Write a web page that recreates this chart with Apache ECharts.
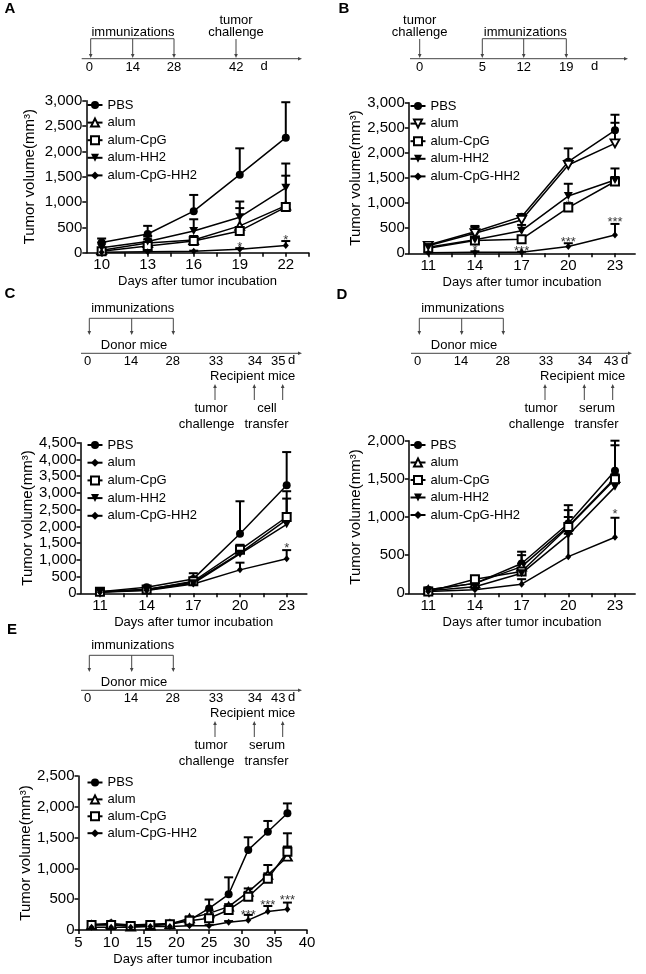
<!DOCTYPE html>
<html><head><meta charset="utf-8">
<script src="https://cdn.jsdelivr.net/npm/echarts@6/dist/echarts.min.js"></script>
<style>
html,body{margin:0;padding:0;background:#fff;width:646px;height:974px;overflow:hidden;}
.panel{position:absolute;left:0;top:0;width:646px;height:974px;}
</style></head><body>
<div id="pA" class="panel"></div>
<div id="pB" class="panel"></div>
<div id="pC" class="panel"></div>
<div id="pD" class="panel"></div>
<div id="pE" class="panel"></div>
<script>
const FONT = "'Liberation Sans', Arial, Helvetica, sans-serif";

// ---------- Panel A ----------
const daysA = [10, 13, 16, 19, 22];
const pbsA = [200, 370, 820, 1540, 2270];
const pbsTopA = [280, 530, 1140, 2060, 2970];
const alumA = [50, 190, 250, 530, 930];
const alumTopA = [80, 260, 330, 880, 1520];
const cpgA = [30, 130, 230, 430, 900];
const cpgTopA = [60, 180, 280, 480, 960];
const hh2A = [100, 220, 430, 700, 1280];
const hh2TopA = [200, 330, 660, 1010, 1760];
const cpghh2A = [10, 20, 30, 70, 140];
const cpghh2TopA = [20, 30, 40, 90, 230];
const starDaysA = [19, 22];
const starValA = [185, 330];
const starTextA = ['*', '*'];
const xLabelsA = [10, 13, 16, 19, 22];
const xTicksA = [10, 11.5, 13, 14.5, 16, 17.5, 19, 20.5, 22, 23.5];
const timelineA = ['0', '14', '28', '42'];

// ---------- Panel B ----------
const daysB = [11, 14, 17, 20, 23];
const pbsB = [165, 430, 730, 1825, 2450];
const pbsTopB = [200, 545, 780, 2090, 2760];
const alumB = [150, 400, 665, 1760, 2190];
const alumTopB = [180, 520, 740, 1850, 2600];
const cpgB = [100, 255, 280, 910, 1430];
const cpgTopB = [130, 300, 330, 1000, 1500];
const hh2B = [120, 270, 450, 1140, 1460];
const hh2TopB = [170, 460, 565, 1385, 1690];
const cpghh2B = [10, 20, 20, 135, 365];
const cpghh2TopB = [20, 40, 30, 200, 585];
const starDaysB = [14, 17, 17, 20, 20, 23];
const starValB = [130, 465, 120, 1030, 300, 685];
const starTextB = ['*', '*', '***', '*', '***', '***'];
const xLabelsB = [11, 14, 17, 20, 23];
const xTicksB = [11, 12.5, 14, 15.5, 17, 18.5, 20, 21.5, 23];
const timelineB = ['0', '5', '12', '19'];

// ---------- Panel C ----------
const daysC = [11, 14, 17, 20, 23];
const pbsC = [50, 180, 430, 1780, 3230];
const pbsTopC = [70, 210, 600, 2750, 4220];
const alumC = [40, 120, 330, 1200, 2200];
const alumTopC = [50, 150, 400, 1400, 2400];
const cpgC = [50, 110, 360, 1300, 2280];
const cpgTopC = [60, 140, 450, 1450, 3050];
const hh2C = [40, 100, 300, 1180, 2060];
const hh2TopC = [50, 130, 380, 1350, 2830];
const cpghh2C = [30, 80, 280, 700, 1030];
const cpghh2TopC = [40, 100, 330, 915, 1290];
const starDaysC = [23];
const starValC = [1475];
const starTextC = ['*'];
const xLabelsC = [11, 14, 17, 20, 23];
const xTicksC = [11, 12.5, 14, 15.5, 17, 18.5, 20, 21.5, 23];
const timelineC = ['0', '14', '28', '33', '34', '35'];

// ---------- Panel D ----------
const daysD = [11, 14, 17, 20, 23];
const pbsD = [45, 130, 390, 915, 1605];
const pbsTopD = [60, 200, 545, 1155, 2000];
const alumD = [45, 130, 350, 880, 1510];
const alumTopD = [60, 180, 500, 1090, 1940];
const cpgD = [22, 185, 285, 870, 1495];
const cpgTopD = [35, 215, 390, 1000, 1560];
const hh2D = [35, 85, 262, 765, 1395];
const hh2TopD = [50, 120, 330, 900, 1450];
const cpghh2D = [22, 45, 120, 480, 735];
const cpghh2TopD = [30, 60, 185, 780, 990];
const starDaysD = [23];
const starValD = [1085];
const starTextD = ['*'];
const xLabelsD = [11, 14, 17, 20, 23];
const xTicksD = [11, 12.5, 14, 15.5, 17, 18.5, 20, 21.5, 23];
const timelineD = ['0', '14', '28', '33', '34', '43'];

// ---------- Panel E ----------
const daysE = [7, 10, 13, 16, 19, 22, 25, 28, 31, 34, 37];
const pbsE = [90, 105, 80, 95, 105, 160, 350, 580, 1300, 1595, 1895];
const pbsTopE = [110, 125, 100, 115, 130, 200, 495, 855, 1505, 1770, 2055];
const alumE = [80, 95, 55, 70, 95, 190, 270, 380, 620, 895, 1190];
const alumTopE = [100, 115, 75, 90, 115, 220, 320, 420, 675, 1055, 1570];
const cpgE = [80, 80, 65, 80, 95, 150, 190, 325, 540, 830, 1270];
const cpgTopE = [100, 100, 85, 100, 115, 175, 230, 360, 620, 920, 1355];
const cpghh2E = [45, 45, 45, 55, 55, 70, 70, 125, 160, 300, 335];
const cpghh2TopE = [55, 55, 55, 65, 65, 80, 80, 145, 245, 390, 445];
const starDaysE = [31, 34, 37];
const starValE = [300, 460, 540];
const starTextE = ['***', '***', '***'];
const timelineE = ['0', '14', '28', '33', '34', '43'];

// ---------- styles ----------
const DOWN_TRI = 'path://M0,0L10,0L5,9Z';
const SYM = {
  circle: {symbol: 'circle', size: 8, fill: '#000', bw: 0},
  triUpOpen: {symbol: 'triangle', size: [9, 8], fill: '#fff', bw: 1.8},
  triDownOpen: {symbol: DOWN_TRI, size: [9, 8], fill: '#fff', bw: 1.8},
  squareOpen: {symbol: 'rect', size: 8, fill: '#fff', bw: 2},
  triDown: {symbol: DOWN_TRI, size: [9, 8], fill: '#000', bw: 0},
  diamond: {symbol: 'diamond', size: [6, 7], fill: '#000', bw: 0}
};

function lineSeries(name, days, mean, sym) {
  const s = SYM[sym];
  return {
    type: 'line', name: name,
    data: days.map((d, i) => [d, mean[i]]),
    symbol: s.symbol, symbolSize: s.size, showSymbol: true,
    itemStyle: {color: s.fill, borderColor: '#000', borderWidth: s.bw},
    lineStyle: {color: '#000', width: 1.5},
    z: 3, silent: true, emphasis: {disabled: true}
  };
}
function errSeries(days, mean, top) {
  return {
    type: 'custom', silent: true, z: 2,
    data: days.map((d, i) => [d, mean[i], top[i]]),
    encode: {x: 0, y: [1, 2]},
    renderItem: function (params, api) {
      const x = api.value(0), y = api.value(1), t = api.value(2);
      if (!(t > y)) return null;
      const a = api.coord([x, y]), b = api.coord([x, t]);
      return {type: 'group', children: [
        {type: 'line', shape: {x1: a[0], y1: a[1], x2: b[0], y2: b[1]}, style: {stroke: '#000', lineWidth: 2}},
        {type: 'line', shape: {x1: b[0] - 4.5, y1: b[1], x2: b[0] + 4.5, y2: b[1]}, style: {stroke: '#000', lineWidth: 2}}
      ]};
    }
  };
}
function starSeries(days, vals, texts) {
  return {
    type: 'scatter', silent: true, z: 4, symbolSize: 1,
    itemStyle: {color: 'rgba(0,0,0,0)'},
    label: {show: true, position: 'inside', fontSize: 13, color: '#000', fontFamily: FONT, offset: [0, 4]},
    data: days.map((d, i) => ({value: [d, vals[i]], label: {formatter: texts[i]}}))
  };
}

// ---------- graphic helpers ----------
function gText(x, y, s, st) {
  return {type: 'text', x: x, y: y, silent: true,
    style: Object.assign({text: s, fontSize: 13, fontFamily: FONT, fill: '#000', align: 'center', verticalAlign: 'middle'}, st || {})};
}
function gLine(x1, y1, x2, y2) {
  return {type: 'line', silent: true, shape: {x1: x1, y1: y1, x2: x2, y2: y2}, style: {stroke: '#444', lineWidth: 1}};
}
function gArrowDown(x, y) {
  return {type: 'polygon', silent: true, shape: {points: [[x, y], [x - 1.8, y - 4], [x + 1.8, y - 4]]}, style: {fill: '#444'}};
}
function gArrowUp(x, y) {
  return {type: 'polygon', silent: true, shape: {points: [[x, y], [x - 1.8, y + 4], [x + 1.8, y + 4]]}, style: {fill: '#444'}};
}
function gArrowRight(x, y) {
  return {type: 'polygon', silent: true, shape: {points: [[x, y], [x - 4, y - 1.8], [x - 4, y + 1.8]]}, style: {fill: '#444'}};
}
function gLetter(x, y, s) {
  return gText(x, y, s, {fontSize: 15, fontWeight: 'bold'});
}
function downArrow(x, y1, y2) {
  return [gLine(x, y1, x, y2 - 3), gArrowDown(x, y2)];
}

function timelineAGraphics() {
  const g = [gLetter(10, 9, 'A')];
  g.push(gLine(81.7, 58.7, 299, 58.7), gArrowRight(302, 58.7));
  const xs = [89.3, 132.7, 174, 236.3];
  timelineA.forEach((t, i) => g.push(gText(xs[i], 67, t)));
  g.push(gText(264, 66, 'd'));
  g.push(gLine(90.7, 38.7, 174, 38.7));
  [90.7, 132.7, 174].forEach(x => g.push(...downArrow(x, 38.7, 58)));
  g.push(gText(133, 32, 'immunizations'));
  g.push(gText(236, 20.5, 'tumor'), gText(236, 32, 'challenge'));
  g.push(...downArrow(236, 39, 58));
  return g;
}
function timelineBGraphics() {
  const g = [gLetter(344, 9, 'B')];
  g.push(gLine(410, 58.7, 625, 58.7), gArrowRight(628, 58.7));
  const xs = [419.7, 482.3, 523.7, 566.3];
  timelineB.forEach((t, i) => g.push(gText(xs[i], 67, t)));
  g.push(gText(594.7, 66, 'd'));
  g.push(gLine(482.3, 38.7, 566.3, 38.7));
  [482.3, 523.7, 566.3].forEach(x => g.push(...downArrow(x, 38.7, 58)));
  g.push(gText(525.3, 32, 'immunizations'));
  g.push(gText(419.7, 20.5, 'tumor'), gText(419.7, 32, 'challenge'));
  g.push(...downArrow(419.7, 39, 58));
  return g;
}
function timelineTransfer(letter, lx, ly, dx, dy, labels, word, lastX) {
  const g = [gLetter(lx, ly, letter)];
  g.push(gText(132.7 + dx, 308.3 + dy, 'immunizations'));
  g.push(gLine(89.3 + dx, 318.3 + dy, 173.3 + dx, 318.3 + dy));
  [89.3, 131.7, 173.3].forEach(x => g.push(...downArrow(x + dx, 318.3 + dy, 335 + dy)));
  g.push(gText(134 + dx, 345 + dy, 'Donor mice'));
  g.push(gLine(81 + dx, 353.3 + dy, 299 + dx, 353.3 + dy), gArrowRight(302 + dx, 353.3 + dy));
  const xs = [87.7, 131, 172.7, 216, 255, lastX];
  labels.forEach((t, i) => g.push(gText(xs[i] + dx, 361.5 + dy, t)));
  g.push(gText(lastX + 13.4 + dx, 360.5 + dy, 'd'));
  g.push(gText(252.7 + dx, 376.7 + dy, 'Recipient mice'));
  [215, 254.3, 282.7].forEach(x => {
    g.push(gLine(x + dx, 387 + dy, x + dx, 400 + dy), gArrowUp(x + dx, 384 + dy));
  });
  g.push(gText(211 + dx, 408.3 + dy, 'tumor'), gText(206.7 + dx, 424 + dy, 'challenge'));
  g.push(gText(267 + dx, 408.3 + dy, word), gText(266.5 + dx, 424 + dy, 'transfer'));
  return g;
}

// ---------- panel builder ----------
function buildOption(cfg) {
  const names = cfg.series.map(s => s[0]);
  const series = [];
  cfg.series.forEach(s => series.push(errSeries(s[1], s[2], s[3])));
  cfg.series.forEach(s => series.push(lineSeries(s[0], s[1], s[2], s[4])));
  series.push(starSeries(cfg.stars[0], cfg.stars[1], cfg.stars[2]));
  const xAxis = {
    type: 'value', min: cfg.xMin, max: cfg.xMax,
    axisLine: {show: true, onZero: false, lineStyle: {color: '#000', width: 1.5}},
    axisTick: {show: true, length: 4, lineStyle: {color: '#000', width: 1.5}},
    axisLabel: {fontSize: 15, color: '#000', margin: 5, fontFamily: FONT},
    splitLine: {show: false},
    name: 'Days after tumor incubation', nameLocation: 'middle', nameGap: 22.5,
    nameTextStyle: {fontSize: 13, color: '#000', fontFamily: FONT}
  };
  if (cfg.xInterval) {
    xAxis.interval = cfg.xInterval;
  } else {
    xAxis.axisTick.customValues = cfg.xTicks;
    xAxis.axisLabel.customValues = cfg.xLabels;
  }
  return {
    animation: false,
    textStyle: {fontFamily: FONT},
    grid: cfg.grid,
    xAxis: xAxis,
    yAxis: {
      type: 'value', min: 0, max: cfg.yMax, interval: cfg.yInterval,
      axisLine: {show: true, onZero: false, lineStyle: {color: '#000', width: 1.5}},
      axisTick: {show: true, length: 4, lineStyle: {color: '#000', width: 1.5}},
      axisLabel: {fontSize: 15, color: '#000', margin: 4, fontFamily: FONT,
        formatter: v => v.toLocaleString('en-US')},
      splitLine: {show: false},
      name: 'Tumor volume(mm³)', nameLocation: 'middle', nameRotate: 90, nameGap: cfg.yNameGap,
      nameTextStyle: {fontSize: 15, color: '#000', fontFamily: FONT}
    },
    legend: {
      orient: 'vertical', left: cfg.legend[0], top: cfg.legend[1], itemGap: cfg.legend[2],
      itemWidth: 15, itemHeight: 10, padding: 0, selectedMode: false,
      textStyle: {fontSize: 13, color: '#000', fontFamily: FONT},
      data: names
    },
    graphic: {elements: cfg.graphics},
    series: series
  };
}

const optA = buildOption({
  grid: {left: 86.3, top: 100.7, width: 222.5, height: 152},
  xMin: 9, xMax: 23.5, xTicks: xTicksA, xLabels: xLabelsA,
  yMax: 3000, yInterval: 500, yNameGap: 49,
  legend: [86.5, 98.5, 4.6],
  series: [
    ['PBS', daysA, pbsA, pbsTopA, 'circle'],
    ['alum', daysA, alumA, alumTopA, 'triUpOpen'],
    ['alum-CpG', daysA, cpgA, cpgTopA, 'squareOpen'],
    ['alum-HH2', daysA, hh2A, hh2TopA, 'triDown'],
    ['alum-CpG-HH2', daysA, cpghh2A, cpghh2TopA, 'diamond']
  ],
  stars: [starDaysA, starValA, starTextA],
  graphics: timelineAGraphics()
});
const optB = buildOption({
  grid: {left: 408.8, top: 102.7, width: 226.4, height: 150.6},
  xMin: 9.75, xMax: 24.3, xTicks: xTicksB, xLabels: xLabelsB,
  yMax: 3000, yInterval: 500, yNameGap: 42.5,
  legend: [409.5, 99.5, 4.6],
  series: [
    ['PBS', daysB, pbsB, pbsTopB, 'circle'],
    ['alum', daysB, alumB, alumTopB, 'triDownOpen'],
    ['alum-CpG', daysB, cpgB, cpgTopB, 'squareOpen'],
    ['alum-HH2', daysB, hh2B, hh2TopB, 'triDown'],
    ['alum-CpG-HH2', daysB, cpghh2B, cpghh2TopB, 'diamond']
  ],
  stars: [starDaysB, starValB, starTextB],
  graphics: timelineBGraphics()
});
const optC = buildOption({
  grid: {left: 80.5, top: 442.7, width: 226.4, height: 150.6},
  xMin: 9.75, xMax: 24.3, xTicks: xTicksC, xLabels: xLabelsC,
  yMax: 4500, yInterval: 500, yNameGap: 43.5,
  legend: [86.5, 438.5, 4.7],
  series: [
    ['PBS', daysC, pbsC, pbsTopC, 'circle'],
    ['alum', daysC, alumC, alumTopC, 'diamond'],
    ['alum-CpG', daysC, cpgC, cpgTopC, 'squareOpen'],
    ['alum-HH2', daysC, hh2C, hh2TopC, 'triDown'],
    ['alum-CpG-HH2', daysC, cpghh2C, cpghh2TopC, 'diamond']
  ],
  stars: [starDaysC, starValC, starTextC],
  graphics: timelineTransfer('C', 10, 294, 0, 0, timelineC, 'cell', 278.3)
});
const optD = buildOption({
  grid: {left: 408.8, top: 440.7, width: 226.4, height: 152.6},
  xMin: 9.75, xMax: 24.3, xTicks: xTicksD, xLabels: xLabelsD,
  yMax: 2000, yInterval: 500, yNameGap: 42.5,
  legend: [409.5, 438.5, 4.5],
  series: [
    ['PBS', daysD, pbsD, pbsTopD, 'circle'],
    ['alum', daysD, alumD, alumTopD, 'triUpOpen'],
    ['alum-CpG', daysD, cpgD, cpgTopD, 'squareOpen'],
    ['alum-HH2', daysD, hh2D, hh2TopD, 'triDown'],
    ['alum-CpG-HH2', daysD, cpghh2D, cpghh2TopD, 'diamond']
  ],
  stars: [starDaysD, starValD, starTextD],
  graphics: timelineTransfer('D', 342, 295, 330, 0, timelineD, 'serum', 281.3)
});
const optE = buildOption({
  grid: {left: 78.5, top: 776, width: 228.5, height: 154},
  xMin: 5, xMax: 40, xInterval: 5,
  yMax: 2500, yInterval: 500, yNameGap: 43.3,
  legend: [86.5, 776, 3.9],
  series: [
    ['PBS', daysE, pbsE, pbsTopE, 'circle'],
    ['alum', daysE, alumE, alumTopE, 'triUpOpen'],
    ['alum-CpG', daysE, cpgE, cpgTopE, 'squareOpen'],
    ['alum-CpG-HH2', daysE, cpghh2E, cpghh2TopE, 'diamond']
  ],
  stars: [starDaysE, starValE, starTextE],
  graphics: timelineTransfer('E', 12, 630, 0, 337, timelineE, 'serum', 278.3)
});

[['pA', optA], ['pB', optB], ['pC', optC], ['pD', optD], ['pE', optE]].forEach(p => {
  const c = echarts.init(document.getElementById(p[0]), null, {renderer: 'canvas'});
  c.setOption(p[1]);
});
</script>
</body></html>
